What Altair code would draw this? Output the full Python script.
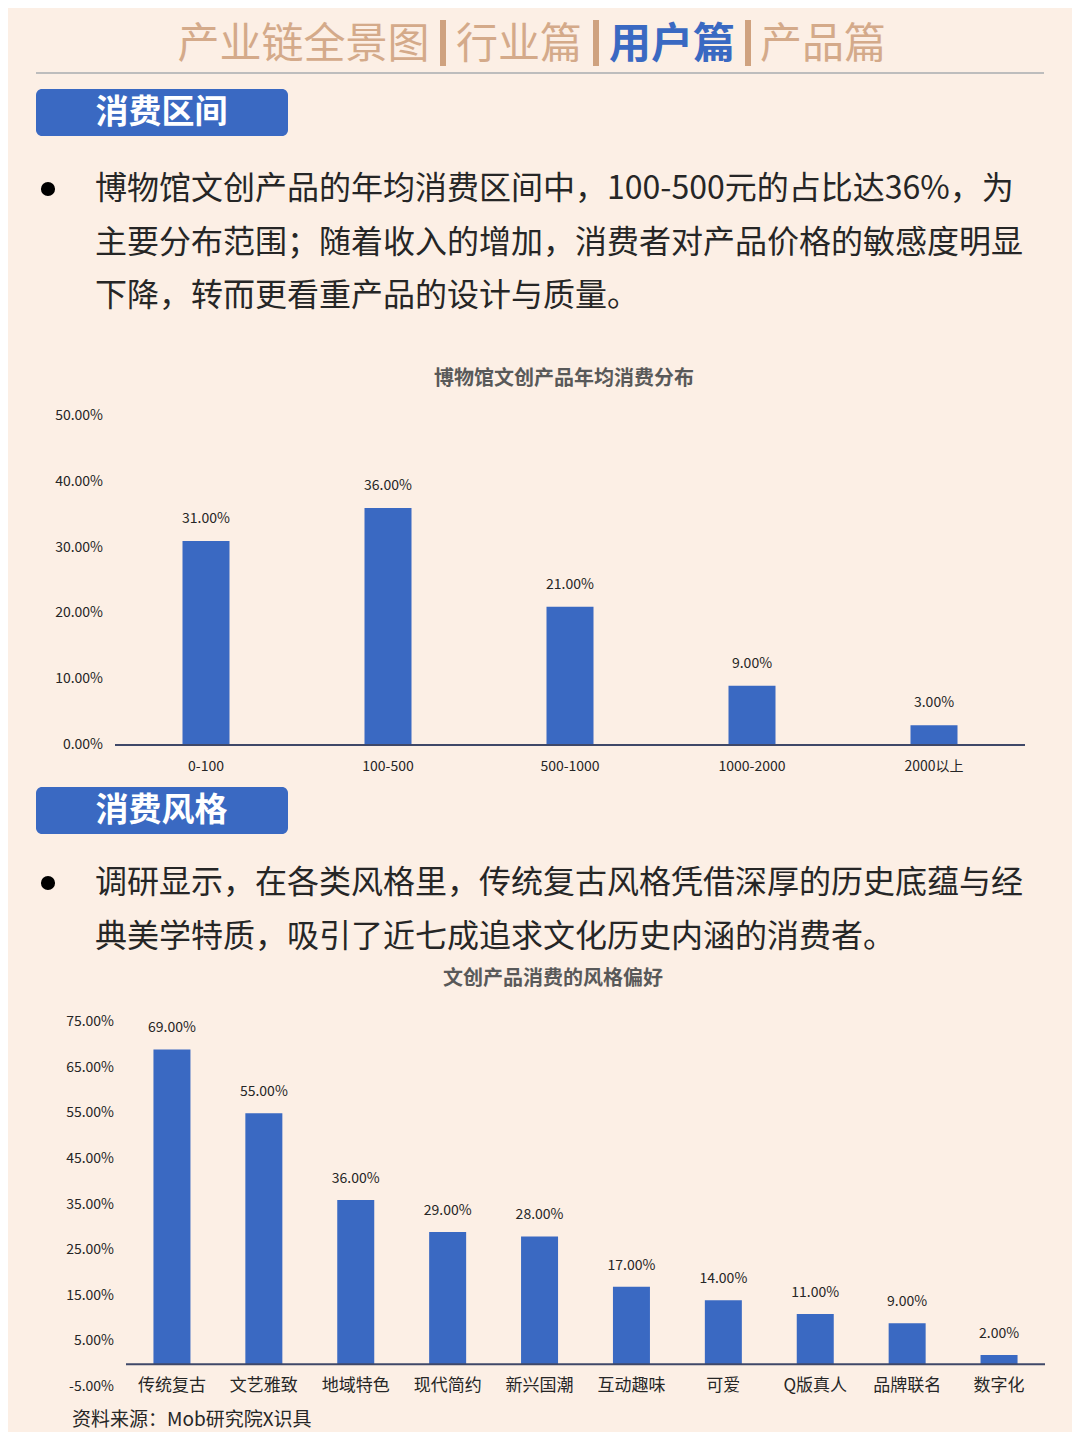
import altair as alt
import pandas as pd

# ---------------- data ----------------
price_ranges = ["0-100", "100-500", "500-1000", "1000-2000", "2000以上"]
price_shares = [31, 36, 21, 9, 3]
price_ticks = [0, 10, 20, 30, 40, 50]

styles = ["传统复古", "文艺雅致", "地域特色", "现代简约", "新兴国潮",
          "互动趣味", "可爱", "Q版真人", "品牌联名", "数字化"]
style_shares = [69, 55, 36, 29, 28, 17, 14, 11, 9, 2]
style_ticks = [-5, 5, 15, 25, 35, 45, 55, 65, 75]

tabs = ["产业链全景图", "行业篇", "用户篇", "产品篇"]
section_titles = ["消费区间", "消费风格"]
para1 = ["博物馆文创产品的年均消费区间中，100-500元的占比达36%，为",
         "主要分布范围；随着收入的增加，消费者对产品价格的敏感度明显",
         "下降，转而更看重产品的设计与质量。"]
para2 = ["调研显示，在各类风格里，传统复古风格凭借深厚的历史底蕴与经",
         "典美学特质，吸引了近七成追求文化历史内涵的消费者。"]
chart1_title = "博物馆文创产品年均消费分布"
chart2_title = "文创产品消费的风格偏好"
source_note = "资料来源：Mob研究院X识具"

# ---------------- styles ----------------
BG = "#FCEFE5"
BLUE = "#3A69C2"
TAN = "#D4AA8A"
TAN_BAR = "#CFA27F"
AXIS = "#3F4868"
TXT = "#262626"
FONT = "Noto Sans CJK SC"

def pct(v):
    return f"{v:.2f}%"

df1 = pd.DataFrame({"cat": price_ranges, "v": price_shares,
                    "lab": [pct(v) for v in price_shares]})
t1 = pd.DataFrame({"v": price_ticks, "lab": [pct(v) for v in price_ticks]})
df2 = pd.DataFrame({"cat": styles, "v": style_shares,
                    "lab": [pct(v) for v in style_shares]})
t2 = pd.DataFrame({"v": style_ticks, "lab": [pct(v) for v in style_ticks]})
zero = pd.DataFrame({"v": [0]})
one = pd.DataFrame({"a": [0]})

# ---------------- chart 1 ----------------
x1 = alt.Scale(domain=price_ranges, range=[107, 1017], paddingInner=0, paddingOuter=0)
y1 = alt.Scale(domain=[0, 50], range=[737, 408], nice=False, zero=True)
X1 = alt.X("cat:N", scale=x1, axis=None, sort=None)
Y1 = alt.Y("v:Q", scale=y1, axis=None)

bars1 = alt.Chart(df1).mark_bar(size=47, color=BLUE).encode(x=X1, y=Y1)
vals1 = alt.Chart(df1).mark_text(dy=-22, fontSize=14, color=TXT, baseline="middle").encode(
    x=X1, y=Y1, text="lab:N")
ylab1 = alt.Chart(t1).mark_text(align="right", baseline="middle", fontSize=14, color=TXT).encode(
    x=alt.value(95), y=Y1, text="lab:N")
xlab1 = alt.Chart(df1).mark_text(baseline="middle", fontSize=14, color=TXT).encode(
    x=X1, y=alt.value(759), text="cat:N")
axis1 = alt.Chart(zero).mark_rule(color=AXIS, strokeWidth=2).encode(
    y=Y1, x=alt.value(107), x2=alt.value(1017))
group1 = alt.layer(bars1, vals1, ylab1, xlab1, axis1)

# ---------------- chart 2 ----------------
x2 = alt.Scale(domain=styles, range=[118, 1037], paddingInner=0, paddingOuter=0)
y2 = alt.Scale(domain=[-5, 75], range=[1379, 1014], nice=False, zero=False)
X2 = alt.X("cat:N", scale=x2, axis=None, sort=None)
Y2 = alt.Y("v:Q", scale=y2, axis=None)

bars2 = alt.Chart(df2).mark_bar(size=37, color=BLUE).encode(x=X2, y=Y2, y2=alt.datum(0))
vals2 = alt.Chart(df2).mark_text(dy=-21, fontSize=14, color=TXT, baseline="middle").encode(
    x=X2, y=Y2, text="lab:N")
ylab2 = alt.Chart(t2).mark_text(align="right", baseline="middle", fontSize=14, color=TXT).encode(
    x=alt.value(106), y=Y2, text="lab:N")
xlab2 = alt.Chart(df2).mark_text(baseline="middle", fontSize=17, color=TXT).encode(
    x=X2, y=alt.value(1378), text="cat:N")
axis2 = alt.Chart(zero).mark_rule(color=AXIS, strokeWidth=2).encode(
    y=Y2, x=alt.value(118), x2=alt.value(1037))
group2 = alt.layer(bars2, vals2, ylab2, xlab2, axis2)

# ---------------- decorations ----------------
deco = []
base = alt.Chart(one)

# header tabs
tab_x = [295.5, 511, 664, 815]
for i, t in enumerate(tabs):
    active = (i == 2)
    deco.append(base.mark_text(
        text=t, fontSize=42, fontWeight="bold" if active else "normal",
        color=BLUE if active else TAN, align="center", baseline="middle").encode(
        x=alt.value(tab_x[i]), y=alt.value(37)))
for sx in [432, 585, 737]:
    deco.append(base.mark_rect(color=TAN_BAR).encode(
        x=alt.value(sx), x2=alt.value(sx + 6), y=alt.value(12), y2=alt.value(58)))
deco.append(base.mark_rule(color="#BDBDBD", strokeWidth=2).encode(
    x=alt.value(28), x2=alt.value(1036), y=alt.value(65)))

# section labels
for title, (ya, yb) in zip(section_titles, [(81, 128), (779, 826)]):
    deco.append(base.mark_rect(color=BLUE, cornerRadius=6).encode(
        x=alt.value(28), x2=alt.value(280), y=alt.value(ya), y2=alt.value(yb)))
    deco.append(base.mark_text(text=title, fontSize=33, fontWeight="bold", color="white",
                               align="center", baseline="middle").encode(
        x=alt.value(153.5), y=alt.value((ya + yb) / 2)))

# paragraphs
for lines, y0 in [(para1, 181), (para2, 875)]:
    deco.append(base.mark_circle(size=200, color="black", opacity=1).encode(
        x=alt.value(40), y=alt.value(y0)))
    for k, line in enumerate(lines):
        deco.append(base.mark_text(text=line, fontSize=32, color=TXT, align="left",
                                   baseline="middle").encode(
            x=alt.value(87), y=alt.value(y0 + k * 53.5)))

# chart titles
deco.append(base.mark_text(text=chart1_title, fontSize=20, fontWeight="bold", color="#595959",
                           align="center", baseline="middle").encode(
    x=alt.value(556), y=alt.value(371)))
deco.append(base.mark_text(text=chart2_title, fontSize=20, fontWeight="bold", color="#595959",
                           align="center", baseline="middle").encode(
    x=alt.value(545), y=alt.value(971)))

# source
deco.append(base.mark_text(text=source_note, fontSize=19, color=TXT, align="left",
                           baseline="middle").encode(
    x=alt.value(64), y=alt.value(1412)))

chart = alt.layer(group1, group2, *deco).resolve_scale(
    x="independent", y="independent"
).properties(
    width=1064, height=1424,
    autosize=alt.AutoSizeParams(type="none"),
    padding=0,
    background=BG,
).configure_view(stroke=None).configure_text(font=FONT)

chart.save("out.html", embed_options={"renderer": "svg", "actions": False})
